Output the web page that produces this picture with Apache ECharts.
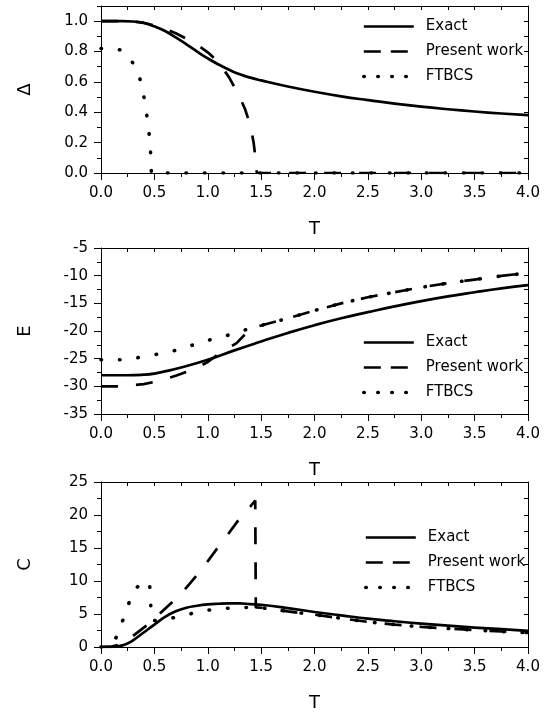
<!DOCTYPE html>
<html>
<head>
<meta charset="utf-8">
<script src="https://cdn.jsdelivr.net/npm/echarts@6/dist/echarts.min.js"></script>
<style>
  html, body { margin: 0; padding: 0; background: #fff; }
  #chart { width: 554px; height: 713px; }
</style>
</head>
<body>
<div id="chart"></div>
<script>
// ---- Order parameter Δ(T) ----
const gapExactT   = [0, 0.2, 0.3, 0.4, 0.5, 0.6, 0.7, 0.8, 0.9, 1.0, 1.1, 1.2, 1.3, 1.4, 1.5, 1.75, 2.0, 2.25, 2.5, 2.75, 3.0, 3.25, 3.5, 3.75, 4.0];
const gapExact    = [1.0, 1.0, 0.998, 0.988, 0.966, 0.935, 0.893, 0.848, 0.8, 0.755, 0.715, 0.68, 0.65, 0.628, 0.61, 0.57, 0.535, 0.505, 0.48, 0.457, 0.437, 0.42, 0.405, 0.392, 0.381];
const gapPresentT = [0, 0.2, 0.3, 0.4, 0.5, 0.6, 0.7, 0.8, 0.9, 1.0, 1.1, 1.2, 1.3, 1.35, 1.4, 1.43, 1.45, 1.46, 4.0];
const gapPresent  = [1.0, 1.0, 0.998, 0.99, 0.972, 0.95, 0.92, 0.885, 0.845, 0.795, 0.73, 0.63, 0.5, 0.42, 0.31, 0.2, 0.08, 0, 0];
const gapFtbcsT   = [0, 0.1, 0.19, 0.25, 0.32, 0.36, 0.38, 0.41, 0.435, 0.45, 0.46, 0.468, 0.472, 4.0];
const gapFtbcs    = [0.82, 0.82, 0.81, 0.77, 0.705, 0.63, 0.585, 0.47, 0.35, 0.26, 0.19, 0.09, 0, 0];

// ---- Energy E(T) ----
const energyExactT   = [0, 0.25, 0.4, 0.5, 0.6, 0.75, 1.0, 1.25, 1.5, 1.75, 2.0, 2.25, 2.5, 2.75, 3.0, 3.25, 3.5, 3.75, 4.0];
const energyExact    = [-28, -28, -27.9, -27.7, -27.3, -26.6, -25.2, -23.5, -21.9, -20.35, -18.95, -17.7, -16.6, -15.55, -14.6, -13.75, -13.0, -12.3, -11.7];
const energyPresentT = [0, 0.2, 0.3, 0.4, 0.5, 0.6, 0.7, 0.8, 0.9, 1.0, 1.1, 1.2, 1.27, 1.35, 1.4];
const energyPresent  = [-30, -30, -29.8, -29.6, -29.2, -28.7, -28.1, -27.4, -26.6, -25.6, -24.2, -23.0, -22.2, -20.6, -19.5];
const energyFtbcsT   = [0, 0.2, 0.35, 0.5, 0.7, 0.85, 1.0, 1.2, 1.4];
const energyFtbcs    = [-25.2, -25.2, -24.8, -24.3, -23.5, -22.6, -21.7, -20.7, -19.5];
// normal-state branch shared by both methods at high T
const energyNormalT  = [1.5, 1.75, 2.0, 2.25, 2.5, 2.75, 3.0, 3.25, 3.5, 3.75, 4.0];
const energyNormal   = [-19.0, -17.7, -16.3, -15.0, -13.9, -13.0, -12.1, -11.35, -10.7, -10.05, -9.5];

// ---- Specific heat C(T) ----
const heatExactT   = [0, 0.1, 0.2, 0.25, 0.3, 0.4, 0.5, 0.6, 0.7, 0.8, 0.9, 1.0, 1.1, 1.2, 1.3, 1.4, 1.5, 1.75, 2.0, 2.25, 2.5, 2.75, 3.0, 3.25, 3.5, 3.75, 4.0];
const heatExact    = [0, 0.02, 0.25, 0.55, 1.0, 2.2, 3.4, 4.55, 5.4, 5.95, 6.25, 6.45, 6.55, 6.6, 6.6, 6.5, 6.4, 5.9, 5.3, 4.8, 4.3, 3.9, 3.55, 3.25, 2.95, 2.7, 2.45];
const heatPresentT = [0, 0.1, 0.2, 0.29, 0.41, 0.5, 0.6, 0.7, 0.8, 0.9, 1.0, 1.1, 1.2, 1.3, 1.4, 1.445, 1.45];
const heatPresent  = [0, 0.05, 0.5, 1.55, 3.05, 4.3, 5.8, 7.3, 9.0, 10.9, 13.0, 15.2, 17.3, 19.5, 21.3, 22.2, 6.0];
const heatFtbcsT   = [0, 0.05, 0.1, 0.147, 0.21, 0.27, 0.33, 0.38, 0.42, 0.455, 0.465, 0.47, 0.5, 0.6, 0.75, 0.925, 1.1, 1.27, 1.45];
const heatFtbcs    = [0, 0.1, 0.5, 1.55, 4.3, 7.05, 8.9, 9.8, 10.0, 9.6, 7.0, 4.05, 4.0, 4.2, 4.65, 5.4, 5.8, 5.95, 6.0];
const heatNormalT  = [1.5, 1.6, 1.75, 2.0, 2.25, 2.5, 2.75, 3.0, 3.25, 3.5, 3.75, 4.0];
const heatNormal   = [5.95, 5.75, 5.4, 4.9, 4.35, 3.8, 3.4, 3.05, 2.8, 2.55, 2.35, 2.15];

// ---- axes ----
const gapTicks    = [0, 0.2, 0.4, 0.6, 0.8, 1.0];
const energyTicks = [-35, -30, -25, -20, -15, -10, -5];
const heatTicks   = [0, 5, 10, 15, 20, 25];
const seriesNames = ['Exact', 'Present work', 'FTBCS'];

const FONT = "'DejaVu Sans', sans-serif";
const BLACK = '#000';

// dash patterns: curves use longer gaps than the legend samples
const solidStyle  = { color: BLACK, width: 2.7, type: 'solid', join: 'round' };
const dashStyle   = { color: BLACK, width: 2.7, type: [17, 18], cap: 'butt' };
const dotStyle    = { color: BLACK, width: 3.6, type: [0.5, 18], cap: 'round' };
const legendStyles = [
  { color: BLACK, width: 2.7, type: 'solid' },
  { color: BLACK, width: 2.7, type: [17, 10], cap: 'butt' },
  { color: BLACK, width: 3.6, type: [0.5, 13.5], cap: 'round' }
];

function zip(xs, ys) { return xs.map((x, i) => [x, ys[i]]); }

const panels = [
  { top: 6,   height: 167, yName: 'Δ', yMin: 0,   yMax: 1.1, minorStep: 0.1, major: gapTicks,    digits: 1, legendTop: 14,  legendLeft: 357,
    exact: zip(gapExactT, gapExact), present: zip(gapPresentT, gapPresent), ftbcs: zip(gapFtbcsT, gapFtbcs) },
  { top: 248, height: 166, yName: 'E', yMin: -35, yMax: -5,  minorStep: 2.5, major: energyTicks, digits: 0, legendTop: 330, legendLeft: 357,
    exact: zip(energyExactT, energyExact),
    present: zip(energyPresentT, energyPresent).concat(zip(energyNormalT, energyNormal)),
    ftbcs: zip(energyFtbcsT, energyFtbcs).concat(zip(energyNormalT, energyNormal)) },
  { top: 482, height: 167, yName: 'C', yMin: 0,   yMax: 25,  minorStep: 2.5, major: heatTicks,   digits: 0, legendTop: 525, legendLeft: 359,
    exact: zip(heatExactT, heatExact),
    present: zip(heatPresentT, heatPresent).concat(zip(heatNormalT, heatNormal)),
    ftbcs: zip(heatFtbcsT, heatFtbcs).concat(zip(heatNormalT, heatNormal)) }
];

const axisLine = { show: true, onZero: false, lineStyle: { color: BLACK, width: 1 } };
const grid = [], xAxis = [], yAxis = [], series = [], legend = [];

panels.forEach((p, i) => {
  grid.push({ left: 101, width: 427, top: p.top, height: p.height, containLabel: false });

  // bottom axis with labels
  xAxis.push({
    gridIndex: i, type: 'value', position: 'bottom', min: 0, max: 4, interval: 0.5,
    axisLine, splitLine: { show: false },
    axisTick: { show: true, inside: false, length: 7, lineStyle: { color: BLACK } },
    minorTick: { show: true, splitNumber: 2, length: 4, lineStyle: { color: BLACK } },
    axisLabel: { show: true, margin: 13, fontSize: 15, fontFamily: FONT, color: BLACK, formatter: v => v.toFixed(1) },
    name: 'T', nameLocation: 'middle', nameGap: 47,
    nameTextStyle: { fontSize: 18, fontFamily: FONT, color: BLACK }
  });
  // top frame
  xAxis.push({
    gridIndex: i, type: 'value', position: 'top', min: 0, max: 4, interval: 0.25,
    axisLine, splitLine: { show: false },
    axisTick: { show: true, inside: true, length: 4, lineStyle: { color: BLACK } },
    axisLabel: { show: false }
  });

  const majorSet = p.major;
  // left axis: labels and minor ticks
  yAxis.push({
    gridIndex: i, type: 'value', position: 'left', min: p.yMin, max: p.yMax, interval: p.minorStep,
    axisLine, splitLine: { show: false },
    axisTick: { show: true, inside: false, length: 4, lineStyle: { color: BLACK } },
    axisLabel: {
      show: true, margin: 13, fontSize: 15, fontFamily: FONT, color: BLACK,
      formatter: v => (majorSet.some(m => Math.abs(m - v) < 1e-6) ? v.toFixed(p.digits) : '')
    },
    name: p.yName, nameLocation: 'middle', nameRotate: 90, nameGap: 67,
    nameTextStyle: { fontSize: 18, fontFamily: FONT, color: BLACK }
  });
  // left axis: long major ticks
  yAxis.push({
    gridIndex: i, type: 'value', position: 'left', min: p.yMin, max: p.yMax,
    axisLine: { show: false }, splitLine: { show: false },
    axisTick: { show: true, inside: false, length: 7, customValues: p.major, lineStyle: { color: BLACK } },
    axisLabel: { show: false, customValues: p.major }
  });
  // right frame
  yAxis.push({
    gridIndex: i, type: 'value', position: 'right', min: p.yMin, max: p.yMax, interval: p.minorStep,
    axisLine, splitLine: { show: false },
    axisTick: { show: true, inside: true, length: 4, lineStyle: { color: BLACK } },
    axisLabel: { show: false }
  });

  const base = { type: 'line', xAxisIndex: i * 2, yAxisIndex: i * 3, symbol: 'none', showSymbol: false,
                 animation: false, silent: true, clip: true, z: 3 };
  series.push(Object.assign({}, base, {
    name: seriesNames[0], data: p.exact, smooth: 0.5,
    lineStyle: solidStyle, itemStyle: { color: BLACK }
  }));
  series.push(Object.assign({}, base, {
    name: seriesNames[1], data: p.present, lineStyle: dashStyle, itemStyle: { color: BLACK }
  }));
  series.push(Object.assign({}, base, {
    name: seriesNames[2], data: p.ftbcs, lineStyle: dotStyle, itemStyle: { color: BLACK }
  }));

  legend.push({
    show: true, orient: 'vertical', left: p.legendLeft, top: p.legendTop,
    itemWidth: 50, itemHeight: 16, itemGap: 10, selectedMode: false,
    itemStyle: { opacity: 0, borderWidth: 0 },
    data: seriesNames.map((n, k) => ({ name: n, lineStyle: legendStyles[k], itemStyle: { opacity: 0, borderWidth: 0 } })),
    textStyle: { fontSize: 15, fontFamily: FONT, color: BLACK, padding: [0, 0, 0, 7] }
  });
});

const chart = echarts.init(document.getElementById('chart'), null, { renderer: 'canvas' });
chart.setOption({ animation: false, backgroundColor: '#fff', grid, xAxis, yAxis, series, legend });
</script>
</body>
</html>
